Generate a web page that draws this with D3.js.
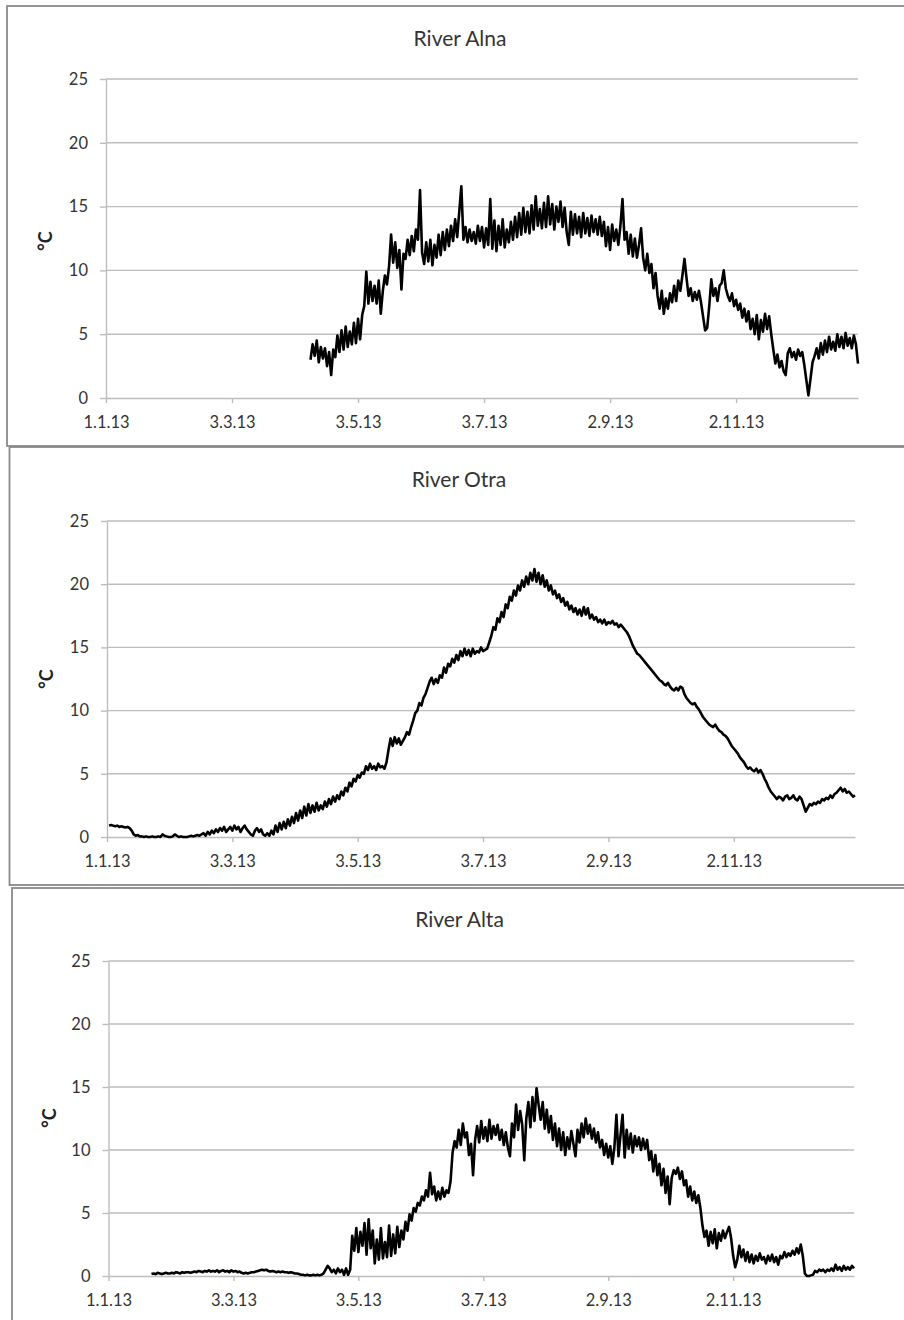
<!DOCTYPE html>
<html><head><meta charset="utf-8">
<script src="https://cdn.jsdelivr.net/npm/d3@7"></script>
<style>body{margin:0;background:#fff} svg{display:block}</style>
</head><body><svg id="c" width="904" height="1320"></svg>
<script>
// ---------------- data ----------------
const rivers = ["River Alna", "River Otra", "River Alta"];
const yLabel = "°C";
const startDates = ["2013-04-10", "2013-01-02", "2013-01-22"]; // first daily value of each series
const axisDomain = ["2013-01-01", "2013-12-31"];
const xTickDates = ["2013-01-01", "2013-03-03", "2013-05-03", "2013-07-03", "2013-09-02", "2013-11-02"];
const xTickLabels = ["1.1.13", "3.3.13", "3.5.13", "3.7.13", "2.9.13", "2.11.13"];
const yTicks = [0, 5, 10, 15, 20, 25];

// River Alna, daily values (°C) from 10 Apr 2013
const alna = [
3.0,4.2,3.3,4.5,2.8,4.0,3.1,3.9,2.5,3.6,
1.8,3.8,3.2,4.9,3.6,5.3,3.8,5.6,4.0,5.2,
4.2,5.9,4.3,6.2,4.6,6.5,7.2,9.9,7.4,9.1,
7.6,8.8,7.4,9.2,6.6,8.4,9.6,8.9,10.3,12.8,
10.6,12.2,10.2,11.6,8.5,11.3,10.9,12.4,11.2,12.7,
11.5,13.2,12.4,16.3,11.4,10.5,12.2,10.7,12.4,10.4,
12.0,11.0,12.8,11.2,13.0,11.6,13.2,11.9,13.5,12.3,
14.0,12.6,14.6,16.6,12.4,13.4,12.2,13.2,12.3,13.0,
12.1,13.5,12.3,13.4,11.8,13.3,12.0,15.6,11.7,13.9,
11.5,13.5,12.0,14.0,11.8,13.2,12.2,13.8,12.4,14.2,
12.6,14.5,12.8,14.9,13.0,14.6,12.9,15.1,13.2,15.8,
13.5,14.8,13.3,15.3,13.4,15.8,13.6,15.2,13.2,15.0,
13.8,15.4,13.4,14.9,13.0,12.0,14.6,12.8,14.4,12.9,
14.2,12.6,14.5,12.9,14.1,12.7,14.3,13.0,14.0,12.8,
14.2,12.7,13.8,11.9,13.4,11.6,13.6,12.3,13.2,12.0,
13.5,15.6,12.4,13.0,11.3,12.8,11.1,12.5,11.0,12.0,
13.3,11.0,10.0,11.3,9.8,10.5,8.6,9.8,8.0,7.0,
8.4,6.6,7.8,7.0,8.2,7.5,8.8,7.6,9.2,8.4,
9.6,10.9,9.4,8.0,8.6,7.6,8.3,7.7,8.4,7.5,
6.4,5.3,5.5,7.2,9.3,8.0,8.6,7.6,8.8,9.0,
10.0,8.6,8.0,7.6,8.2,7.2,7.7,6.9,7.4,6.3,
7.0,6.0,6.8,5.4,6.2,5.0,6.5,4.6,6.1,5.2,
6.6,5.4,6.4,5.0,3.8,2.7,3.4,2.4,2.9,2.1,
1.8,3.5,3.9,3.2,3.6,3.0,3.8,3.3,3.6,2.6,
1.4,0.2,1.5,2.8,3.3,3.9,3.1,4.3,3.4,4.5,
3.6,4.8,3.8,4.4,3.7,5.0,4.0,4.8,3.9,5.1,
4.1,4.7,3.9,4.9,4.2,2.7
];

// River Otra, daily values (°C) from 2 Jan 2013
const otra = [
0.9,0.95,0.9,0.85,0.9,0.8,0.85,0.8,0.75,0.8,
0.7,0.5,0.2,0.1,0.15,0.05,0.05,0.0,0.05,0.0,
0.0,0.05,0.0,0.0,0.05,0.0,0.2,0.1,0.05,0.0,
0.0,0.05,0.2,0.1,0.0,0.05,0.0,0.0,0.0,0.05,
0.1,0.05,0.1,0.15,0.1,0.2,0.3,0.1,0.4,0.2,
0.5,0.3,0.6,0.4,0.7,0.5,0.8,0.4,0.6,0.8,
0.5,0.9,0.6,0.8,0.4,0.7,0.9,0.6,0.4,0.2,
0.1,0.5,0.7,0.4,0.6,0.2,0.1,0.3,0.1,0.5,
0.2,0.9,0.4,1.1,0.6,1.2,0.7,1.4,0.9,1.6,
1.1,1.9,1.3,2.1,1.5,2.4,1.7,2.6,1.9,2.5,
2.0,2.7,2.1,2.5,2.2,2.8,2.4,3.0,2.6,3.2,
2.8,3.3,3.0,3.6,3.3,3.9,3.6,4.3,4.0,4.6,
4.4,4.9,4.7,5.1,5.0,5.6,5.3,5.8,5.4,5.6,
5.3,5.8,5.5,5.6,5.4,5.9,6.9,7.8,7.2,7.9,
7.4,7.8,7.3,7.6,7.9,8.3,8.1,8.7,9.2,9.8,
10.0,10.6,10.4,11.0,11.3,11.8,12.3,12.6,12.1,12.5,
12.2,12.8,12.6,13.4,13.0,13.7,13.5,14.1,13.8,14.4,
14.0,14.7,14.3,14.9,14.4,14.8,14.3,14.9,14.5,14.7,
14.6,15.0,14.7,14.8,14.9,15.4,15.9,16.6,16.4,17.3,
17.0,17.8,17.4,18.4,18.1,19.0,18.7,19.5,19.1,19.9,
19.5,20.3,19.8,20.6,20.0,20.9,20.3,21.2,20.2,20.9,
20.0,20.7,19.8,20.3,19.5,19.9,19.2,19.5,18.9,19.2,
18.6,18.9,18.3,18.6,18.0,18.3,17.8,18.1,17.6,18.0,
17.5,18.2,17.6,18.1,17.3,17.6,17.2,17.4,17.0,17.2,
16.9,17.2,16.8,17.0,16.9,17.1,16.8,16.9,16.6,16.8,
16.6,16.4,16.2,15.9,15.5,15.1,14.8,14.5,14.4,14.2,
14.0,13.8,13.6,13.4,13.2,13.0,12.8,12.6,12.4,12.3,
12.1,12.0,12.2,11.9,11.7,11.6,11.8,11.6,11.9,11.8,
11.3,11.0,10.8,10.6,10.5,10.6,10.3,10.1,9.8,9.5,
9.3,9.1,8.9,8.8,8.7,8.9,8.6,8.4,8.3,8.1,
8.0,7.8,7.5,7.2,7.0,6.8,6.6,6.3,6.1,5.9,
5.6,5.4,5.5,5.3,5.2,5.4,5.1,5.3,5.0,4.6,
4.3,3.9,3.6,3.4,3.2,3.0,3.2,3.1,2.9,3.2,
3.3,3.0,3.1,3.3,3.0,2.9,3.2,3.0,2.5,2.0,
2.3,2.6,2.5,2.7,2.6,2.8,2.7,3.0,2.9,3.1,
3.0,3.3,3.1,3.4,3.5,3.7,3.9,3.6,3.8,3.5,
3.6,3.4,3.2,3.3
];

// River Alta, daily values (°C) from 22 Jan 2013
const alta = [
0.15,0.2,0.15,0.25,0.2,0.15,0.2,0.25,0.2,0.2,
0.25,0.2,0.3,0.25,0.2,0.3,0.25,0.3,0.3,0.25,
0.3,0.35,0.3,0.4,0.35,0.3,0.4,0.35,0.45,0.35,
0.4,0.35,0.45,0.3,0.4,0.45,0.35,0.4,0.3,0.45,
0.35,0.4,0.3,0.35,0.25,0.2,0.25,0.2,0.25,0.3,
0.3,0.35,0.4,0.45,0.5,0.45,0.5,0.4,0.35,0.4,
0.35,0.3,0.35,0.3,0.35,0.3,0.3,0.25,0.3,0.25,
0.2,0.2,0.15,0.1,0.1,0.05,0.1,0.05,0.05,0.1,
0.05,0.1,0.05,0.1,0.2,0.5,0.8,0.6,0.3,0.5,
0.2,0.6,0.3,0.5,0.1,0.6,0.1,0.5,3.2,2.0,
3.8,1.9,3.5,2.4,4.2,1.7,4.5,2.2,3.6,1.0,
2.9,1.3,3.8,1.4,2.7,1.5,4.0,1.6,3.3,1.8,
3.9,2.3,3.6,2.9,4.3,3.6,4.9,4.4,5.4,5.1,
5.8,5.6,6.3,6.0,6.8,6.3,8.2,6.5,7.1,6.0,
6.7,6.1,7.0,6.3,6.8,6.6,7.5,9.8,10.7,10.2,
11.6,10.4,12.1,11.0,11.4,9.6,10.5,8.0,10.8,11.9,
10.6,12.3,10.9,11.8,10.7,12.4,10.9,11.9,11.2,12.0,
10.8,11.6,10.4,11.4,10.2,9.5,12.1,11.0,13.6,11.6,
13.1,12.0,9.2,12.5,13.8,11.8,14.2,12.3,14.9,13.6,
12.4,13.8,11.7,13.2,11.4,12.7,10.8,12.1,10.3,11.7,
10.0,11.4,9.6,11.0,10.1,11.5,10.5,9.5,11.6,10.6,
12.1,11.0,12.5,11.3,12.0,10.9,11.7,10.6,11.4,10.2,
10.8,9.6,10.5,9.4,10.3,8.9,10.2,12.8,9.5,11.2,
12.8,9.4,11.6,10.1,11.3,9.8,11.1,10.3,11.0,10.0,
10.9,10.1,10.8,9.2,9.9,8.3,9.6,8.0,8.9,7.2,
8.5,6.6,7.9,5.7,7.8,8.4,8.1,8.6,7.7,8.3,
7.2,7.6,6.3,7.1,6.0,6.7,5.8,6.4,5.4,4.0,
3.1,3.6,2.4,3.5,2.6,3.7,2.2,3.4,2.8,3.6,
3.0,3.5,3.9,3.0,1.6,0.7,1.3,2.4,1.5,2.1,
1.2,1.9,1.1,1.7,1.0,1.6,1.2,1.8,1.3,1.5,
1.0,1.6,1.2,1.7,1.1,1.5,0.9,1.6,1.4,1.9,
1.5,1.8,1.6,2.0,1.7,2.2,1.8,2.5,1.6,0.2,
0.0,0.0,0.05,0.1,0.4,0.3,0.5,0.4,0.5,0.3,
0.5,0.4,0.6,0.4,0.9,0.5,0.7,0.4,0.8,0.5,
0.7,0.5,0.8,0.6
];

const seriesValues = [alna, otra, alta];

// ---------------- layout ----------------
const layout = [
  {box:[7, 6, 960, 440],     plot:[106, 858, 398, 79],    title:[460, 46],    ylab:[46, 241]},
  {box:[9.5, 447, 960, 438], plot:[107, 855, 837, 521],   title:[459, 487],   ylab:[47, 679]},
  {box:[12, 888, 960, 480],  plot:[108.5, 854, 1276, 961], title:[459.5, 927], ylab:[50, 1118]}
];

const parse = d3.timeParse("%Y-%m-%d");
const svg = d3.select("#c");
const FONT = "Lato, 'Open Sans', sans-serif";
const TXT = "#333333";

layout.forEach((L, k) => {
  const g = svg.append("g");
  g.append("rect").attr("x", L.box[0]).attr("y", L.box[1]).attr("width", L.box[2]).attr("height", L.box[3])
    .attr("fill", "#fff").attr("stroke", "#8a8a8a").attr("stroke-width", 1.8);

  const [x0, x1, yb, yt] = L.plot;
  const x = d3.scaleTime().domain(axisDomain.map(parse)).range([x0, x1]);
  const y = d3.scaleLinear().domain([0, 25]).range([yb, yt]);

  // gridlines
  g.append("g").selectAll("line").data(yTicks.filter(v => v > 0)).join("line")
    .attr("x1", x0).attr("x2", x1).attr("y1", d => y(d)).attr("y2", d => y(d))
    .attr("stroke", "#bdbdbd").attr("stroke-width", 1.4);

  // y axis
  const ya = g.append("g").attr("transform", `translate(${x0},0)`)
    .call(d3.axisLeft(y).tickValues(yTicks).tickSize(6).tickSizeOuter(0).tickPadding(12));
  ya.select(".domain").attr("stroke", "#bdbdbd").attr("stroke-width", 1.4);
  ya.selectAll(".tick line").attr("stroke", "#bdbdbd").attr("stroke-width", 1.4);
  ya.selectAll("text").attr("font-family", FONT).attr("font-size", 16.5).attr("fill", TXT);

  // x axis
  const labelOf = new Map(xTickDates.map((d, i) => [+parse(d), xTickLabels[i]]));
  const xa = g.append("g").attr("transform", `translate(0,${yb})`)
    .call(d3.axisBottom(x).tickValues(xTickDates.map(parse)).tickSize(5).tickSizeOuter(0).tickPadding(13)
      .tickFormat(d => labelOf.get(+d)));
  xa.select(".domain").attr("stroke", "#bdbdbd").attr("stroke-width", 1.4);
  xa.selectAll(".tick line").attr("stroke", "#bdbdbd").attr("stroke-width", 1.4);
  xa.selectAll("text").attr("font-family", FONT).attr("font-size", 16.5).attr("fill", TXT);

  // data line
  const start = parse(startDates[k]);
  const pts = seriesValues[k].map((v, i) => ({date: d3.timeDay.offset(start, i), v}));
  g.append("path").datum(pts)
    .attr("d", d3.line().x(d => x(d.date)).y(d => y(d.v)))
    .attr("fill", "none").attr("stroke", "#000").attr("stroke-width", 2.6).attr("stroke-linejoin", "round");

  // title
  g.append("text").attr("x", L.title[0]).attr("y", L.title[1]).attr("text-anchor", "middle")
    .attr("font-family", FONT).attr("font-size", 21).attr("fill", TXT).text(rivers[k]);

  // y label
  g.append("text").attr("transform", `translate(${L.ylab[0]},${L.ylab[1]}) rotate(-90)`)
    .attr("text-anchor", "middle").attr("dy", "0.35em")
    .attr("font-family", FONT).attr("font-size", 18).attr("font-weight", "bold").attr("fill", "#222").text(yLabel);
});
</script></body></html>
